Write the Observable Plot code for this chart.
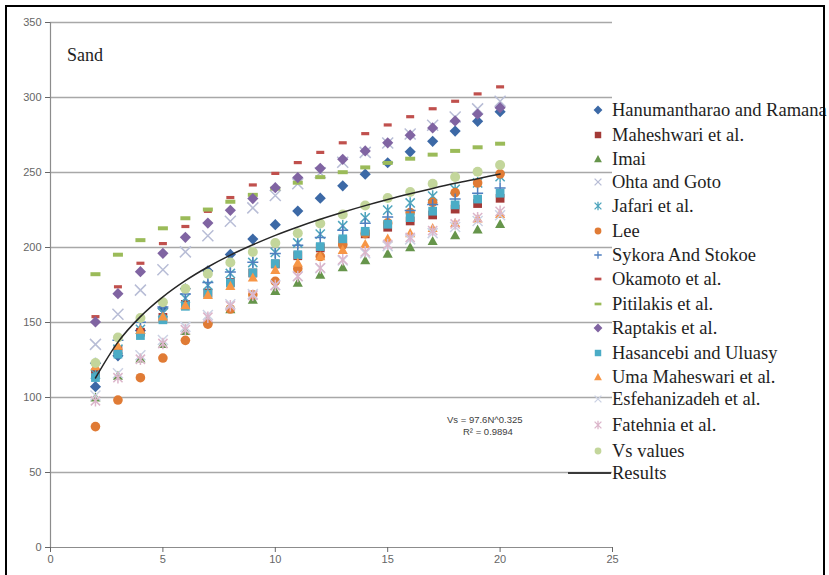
<!DOCTYPE html>
<html><head><meta charset="utf-8">
<script src="https://cdn.jsdelivr.net/npm/d3@7"></script>
<script src="https://cdn.jsdelivr.net/npm/@observablehq/plot@0.6"></script>
<style>
body{margin:0;background:#fff;}
#wrap{position:relative;width:829px;height:575px;overflow:hidden;background:#fff;}
#frame{position:absolute;left:5px;top:5px;width:820px;height:590px;border:2px solid #000;box-sizing:border-box;pointer-events:none;}
.leg{position:absolute;font-family:"Liberation Serif","Times New Roman",serif;font-size:18.5px;line-height:20px;color:#1e1e1e;white-space:nowrap;}
.ann{position:absolute;font-family:"Liberation Sans",Arial,sans-serif;font-size:9.5px;line-height:11px;color:#404040;white-space:nowrap;}
</style></head>
<body><div id="wrap"></div>
<script>
// ---- data ----
const N = [2,3,4,5,6,7,8,9,10,11,12,13,14,15,16,17,18,19,20];
const xTicks = [0,5,10,15,20,25];
const yTicks = [0,50,100,150,200,250,300,350];
const hanumantharao = [107.2,127.8,144.7,159.4,172.5,184.4,195.4,205.6,215.2,224.3,232.9,241.1,248.9,256.5,263.8,270.8,277.6,284.1,290.5];
const maheshwari = [116.4,131.5,143.5,153.4,162.1,169.7,176.7,183.0,189.0,194.5,199.7,204.6,209.1,213.5,217.7,221.7,225.6,229.3,232.8];
const imai = [100.0,114.5,126.0,135.7,144.3,151.9,158.8,165.2,171.1,176.6,181.9,186.8,191.5,195.9,200.2,204.3,208.2,212.0,215.7];
const ohta = [135.4,155.5,171.6,185.2,197.1,207.8,217.5,226.4,234.7,242.5,249.8,256.8,263.4,269.7,275.7,281.5,287.0,292.4,297.5];
const jafari = [115.6,132.2,145.4,156.5,166.2,174.8,182.7,190.0,196.7,203.0,208.9,214.5,219.8,224.9,229.7,234.3,238.8,243.1,247.2];
const lee = [80.6,98.3,113.2,126.3,138.1,148.9,159.0,168.5,177.4,185.9,194.0,201.7,209.2,216.4,223.3,230.1,236.6,243.0,249.1];
const sykora = [122.9,138.2,150.2,160.3,169.0,176.7,183.7,190.1,196.0,201.5,206.6,211.5,216.1,220.4,224.6,228.6,232.4,236.1,239.6];
const okamoto = [153.9,173.8,189.5,202.6,214.0,224.1,233.3,241.7,249.4,256.6,263.4,269.8,275.9,281.7,287.2,292.5,297.5,302.4,307.1];
const pitilakis = [182.2,195.2,204.9,212.8,219.5,225.3,230.5,235.1,239.3,243.2,246.9,250.2,253.4,256.4,259.2,261.9,264.4,266.8,269.2];
const raptakis = [150.4,169.2,183.9,196.1,206.8,216.3,224.8,232.6,239.9,246.6,252.8,258.8,264.4,269.8,274.9,279.7,284.4,288.9,293.2];
const hasancebi = [113.3,128.9,141.3,151.8,160.8,168.9,176.3,183.1,189.3,195.2,200.6,205.8,210.8,215.5,219.9,224.2,228.4,232.3,236.2];
const umaMaheswari = [120.8,134.5,145.2,154.0,161.6,168.4,174.4,180.0,185.1,189.8,194.2,198.4,202.3,206.0,209.6,213.0,216.3,219.4,222.4];
const esfehanizadeh = [101.3,116.2,128.2,138.3,147.1,155.0,162.2,168.9,175.0,180.8,186.2,191.4,196.2,200.9,205.4,209.6,213.7,217.7,221.5];
const fatehnia = [97.8,113.2,125.5,136.0,145.2,153.5,161.1,168.1,174.6,180.7,186.4,191.9,197.1,202.0,206.7,211.3,215.7,219.9,224.1];
const vsValues = [123,140,153,163.5,172.5,182.5,190,197,203,209.5,216,222,228,233,237,242.5,247,250.5,255];
const results = [113.0,136.9,153.9,167.1,177.9,187.0,194.9,201.8,208.1,213.7,218.8,223.5,227.9,232.0,235.8,239.4,242.8,245.9,249.0];
const fitEquation = "Vs = 97.6N^0.325";
const fitR2 = "R\u00B2 = 0.9894";
const panelTitle = "Sand";

// ---- marker shapes ----
const R = s => Math.sqrt(s / Math.PI);
const symDiamond = {draw(c,s){const h=R(s)*1.3;c.moveTo(0,-h);c.lineTo(h,0);c.lineTo(0,h);c.lineTo(-h,0);c.closePath();}};
const symSquare = {draw(c,s){const h=R(s)*0.95;c.rect(-h,-h,2*h,2*h);}};
const symTriangle = {draw(c,s){const h=R(s)*1.15;c.moveTo(0,-h);c.lineTo(h,h*0.8);c.lineTo(-h,h*0.8);c.closePath();}};
const symCircle = {draw(c,s){const r=R(s);c.moveTo(r,0);c.arc(0,0,r,0,2*Math.PI);}};
const symTimes = {draw(c,s){const h=R(s);c.moveTo(-h,-h);c.lineTo(h,h);c.moveTo(h,-h);c.lineTo(-h,h);}};
const symPlus = {draw(c,s){const h=R(s)*1.1;c.moveTo(-h,0);c.lineTo(h,0);c.moveTo(0,-h);c.lineTo(0,h);}};
const symStar = {draw(c,s){const h=R(s);c.moveTo(-h,-h);c.lineTo(h,h);c.moveTo(h,-h);c.lineTo(-h,h);c.moveTo(0,-h*1.25);c.lineTo(0,h*1.25);}};
const symDash = {draw(c,s){const h=R(s);c.rect(-h,-h*0.4,2*h,h*0.8);}};

const series = [
  {name:"Hanumantharao and Ramana", values:hanumantharao, sym:symDiamond, color:"#3c69a6", filled:true, r:4.3, ly:110},
  {name:"Maheshwari et al.", values:maheshwari, sym:symSquare, color:"#a33a37", filled:true, r:4.6, ly:135},
  {name:"Imai", values:imai, sym:symTriangle, color:"#66954b", filled:true, r:4.4, ly:159},
  {name:"Ohta and Goto", values:ohta, sym:symTimes, color:"#b8bdd6", filled:false, r:5.5, ly:182},
  {name:"Jafari et al.", values:jafari, sym:symStar, color:"#4ea5bd", filled:false, r:4.6, ly:206},
  {name:"Lee", values:lee, sym:symCircle, color:"#e07b35", filled:true, r:4.8, ly:231},
  {name:"Sykora And Stokoe", values:sykora, sym:symPlus, color:"#4f7fc0", filled:false, r:5, ly:255},
  {name:"Okamoto et al.", values:okamoto, sym:symDash, color:"#c0504d", filled:true, r:4, ly:279},
  {name:"Pitilakis et al.", values:pitilakis, sym:symDash, color:"#9bbb59", filled:true, r:5, ly:304},
  {name:"Raptakis et al.", values:raptakis, sym:symDiamond, color:"#8064a2", filled:true, r:4.3, ly:328},
  {name:"Hasancebi and Uluasy", values:hasancebi, sym:symSquare, color:"#4bacc6", filled:true, r:4.6, ly:353},
  {name:"Uma Maheswari et al.", values:umaMaheswari, sym:symTriangle, color:"#f79646", filled:true, r:4.4, ly:377},
  {name:"Esfehanizadeh et al.", values:esfehanizadeh, sym:symTimes, color:"#ccd2e4", filled:false, r:5, ly:399},
  {name:"Fatehnia et al.", values:fatehnia, sym:symStar, color:"#dcb6cb", filled:false, r:4.6, ly:425},
  {name:"Vs values", values:vsValues, sym:symCircle, color:"#c3d69b", filled:true, r:5, ly:451}
];

const marks = [
  Plot.gridY(yTicks.filter(t => t > 0), {stroke:"#a8a8a8", strokeOpacity:1, strokeWidth:1.4}),
  Plot.ruleY([0], {stroke:"#8c8c8c", strokeWidth:1.2}),
  Plot.ruleX([0], {stroke:"#8c8c8c", strokeWidth:1.2}),
  Plot.axisY({ticks:yTicks, tickSize:5, tickPadding:4, label:null}),
  Plot.axisX({ticks:xTicks, tickSize:5, tickPadding:3, label:null})
];
for (const s of series) {
  marks.push(Plot.dot(N, {
    x: d => d,
    y: (d, i) => s.values[i],
    symbol: s.sym,
    r: s.r,
    fill: s.filled ? s.color : "none",
    stroke: s.filled ? "none" : s.color,
    strokeWidth: s.filled ? 0 : 1.5
  }));
}
marks.push(Plot.line(N, {x: d => d, y: (d, i) => results[i], curve:"monotone-x", stroke:"#262626", strokeWidth:1.5}));

const chart = Plot.plot({
  width: 829, height: 575,
  marginLeft: 50, marginRight: 217, marginTop: 22, marginBottom: 28,
  x: {domain:[0,25]},
  y: {domain:[0,350]},
  style: {fontFamily:"'Liberation Sans', Arial, sans-serif", fontSize:"11px", color:"#666666", background:"transparent"},
  marks
});

const wrap = document.getElementById("wrap");
chart.style.position = "absolute";
chart.style.left = "0px";
chart.style.top = "0px";
wrap.appendChild(chart);

// ---- legend ----
const ns = "http://www.w3.org/2000/svg";
for (const s of series) {
  const svg = document.createElementNS(ns, "svg");
  svg.setAttribute("width", 16); svg.setAttribute("height", 16);
  svg.style.position = "absolute";
  svg.style.left = (598 - 8) + "px";
  svg.style.top = (s.ly - 8) + "px";
  const p = document.createElementNS(ns, "path");
  p.setAttribute("d", d3.symbol(s.sym, Math.PI * 3.4 * 3.4)());
  p.setAttribute("transform", "translate(8,8)");
  if (s.filled) { p.setAttribute("fill", s.color); }
  else { p.setAttribute("fill", "none"); p.setAttribute("stroke", s.color); p.setAttribute("stroke-width", 1.3); }
  svg.appendChild(p);
  wrap.appendChild(svg);
  const t = document.createElement("div");
  t.className = "leg";
  t.textContent = s.name;
  t.style.left = "612px";
  t.style.top = (s.ly - 10) + "px";
  wrap.appendChild(t);
}
// Results legend entry (line)
{
  const svg = document.createElementNS(ns, "svg");
  svg.setAttribute("width", 44); svg.setAttribute("height", 6);
  svg.style.position = "absolute"; svg.style.left = "568px"; svg.style.top = "470px";
  const l = document.createElementNS(ns, "line");
  l.setAttribute("x1", 0); l.setAttribute("x2", 43); l.setAttribute("y1", 3); l.setAttribute("y2", 3);
  l.setAttribute("stroke", "#3a3a3a"); l.setAttribute("stroke-width", 2);
  svg.appendChild(l); wrap.appendChild(svg);
  const t = document.createElement("div");
  t.className = "leg"; t.textContent = "Results";
  t.style.left = "612px"; t.style.top = "463px";
  wrap.appendChild(t);
}

// ---- texts ----
const title = document.createElement("div");
title.className = "leg"; title.style.fontSize = "18px"; title.textContent = panelTitle;
title.style.left = "67px"; title.style.top = "45px";
wrap.appendChild(title);
const eq = document.createElement("div");
eq.className = "ann"; eq.textContent = fitEquation; eq.style.left = "447px"; eq.style.top = "414px";
wrap.appendChild(eq);
const r2 = document.createElement("div");
r2.className = "ann"; r2.textContent = fitR2; r2.style.left = "463px"; r2.style.top = "426px";
wrap.appendChild(r2);

const frame = document.createElement("div");
frame.id = "frame";
wrap.appendChild(frame);
</script>
</body></html>
